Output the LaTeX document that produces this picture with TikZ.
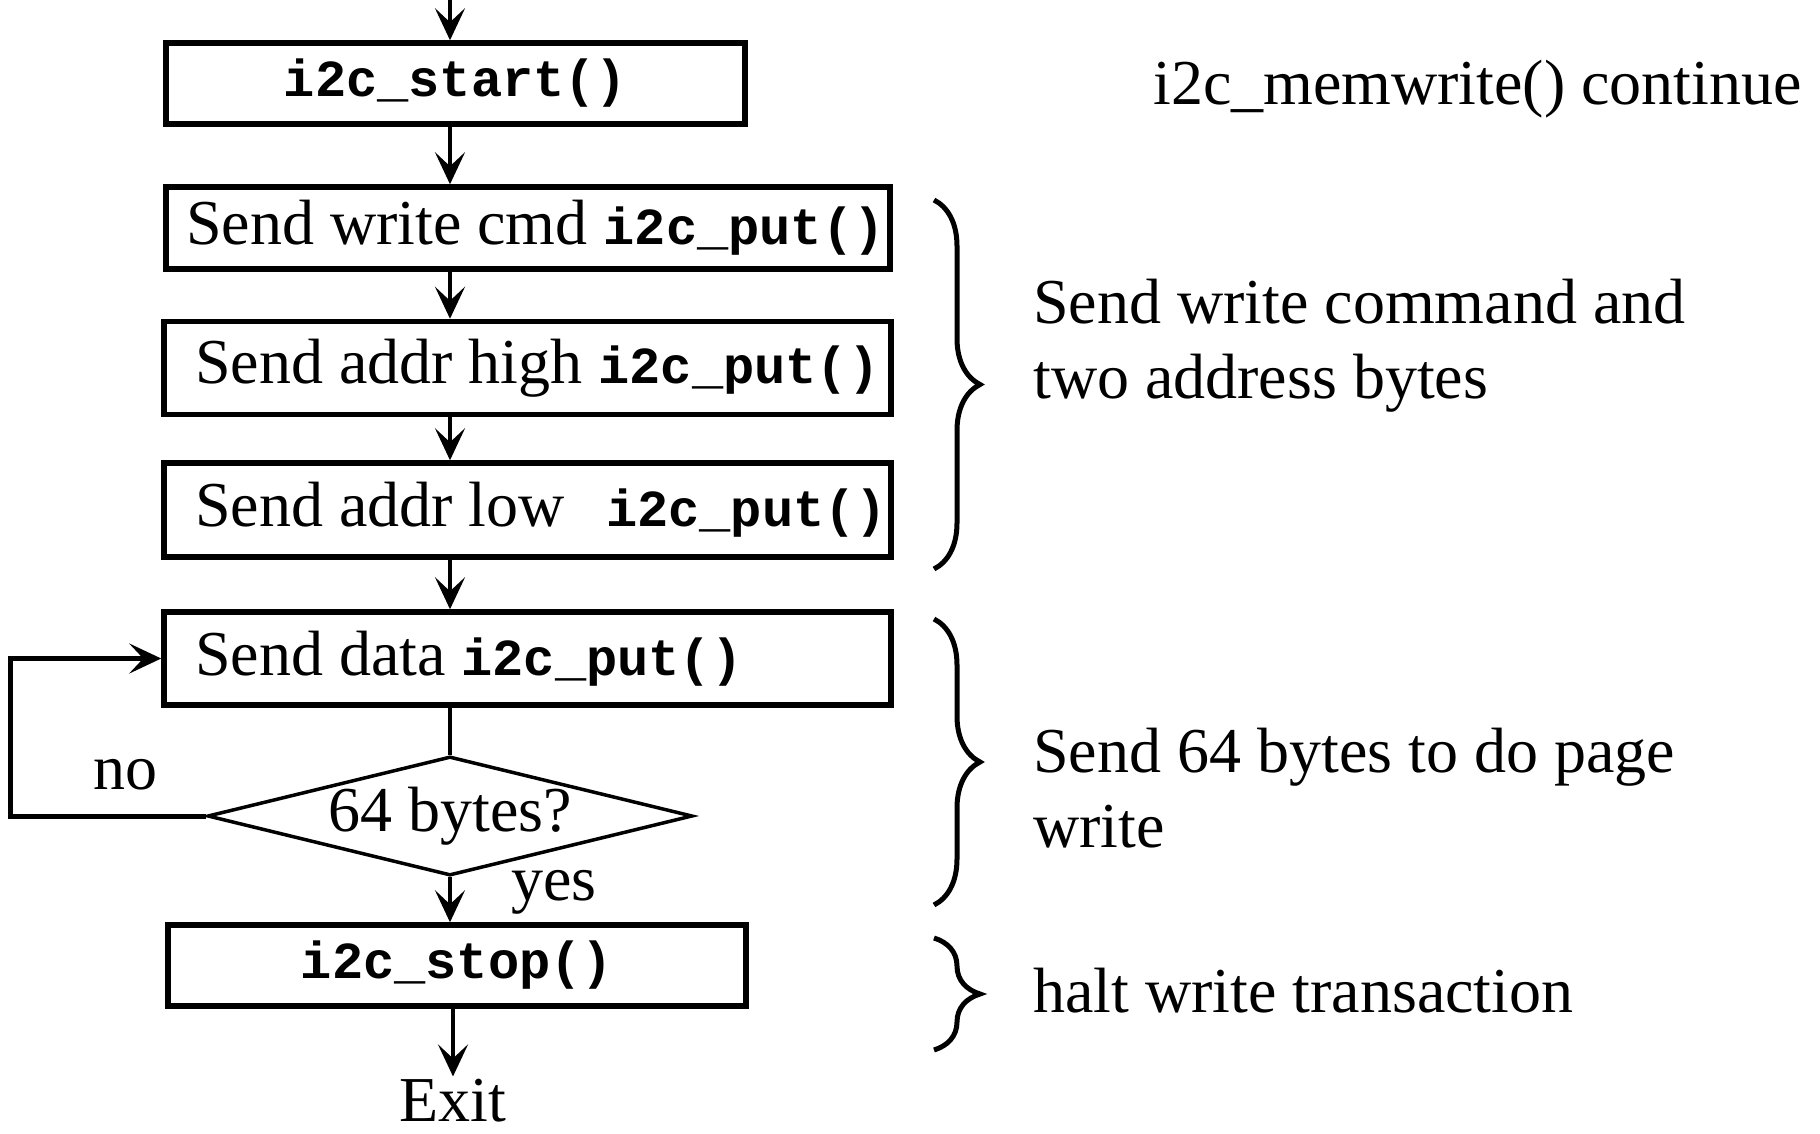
\documentclass[tikz,border=0pt]{standalone}
\usepackage{fontspec}
\setmainfont{Liberation Serif}
\setmonofont{Liberation Mono}
\usetikzlibrary{arrows.meta,shapes.geometric,decorations.pathreplacing}

% text sizes used in the flow chart
\newcommand\myserif{\fontsize{64}{75}\selectfont}
\newcommand\mycode{\fontsize{52}{60}\selectfont\ttfamily\bfseries}

\begin{document}
\begin{tikzpicture}[
  x=1pt, y=-1pt,
  font=\myserif,
  stepbox/.style={draw, line width=5.5pt, inner sep=0pt, minimum height=93pt},
  decision/.style={diamond, draw, line width=3.5pt, aspect=4, inner sep=0pt,
                   minimum width=485pt, minimum height=119pt},
  arr/.style={line width=4pt, -{Stealth[length=32pt,width=30pt,inset=14pt]}},
  flow/.style={line width=4pt},
  bracket/.style={line width=5pt, decorate,
                  decoration={brace, amplitude=46pt}},
  note/.style={anchor=base west, inner sep=0pt, align=left},
]
  % page
  \fill[white] (0,0) rectangle (1820,1134);
  \useasboundingbox (0,0) rectangle (1820,1134);

  % column of the main flow
  \coordinate (col) at (450,0);
  \coordinate (entry) at (450,0);

  % steps
  \node[stepbox, minimum width=579pt, minimum height=81pt] (start) at (455.5,83.5)
    {\mycode i2c\_start()};
  \node[stepbox, minimum width=724pt, minimum height=82pt] (b1) at (528,228)
    {\makebox[684pt][l]{Send write cmd \mycode i2c\_put()}};
  \node[stepbox, minimum width=727pt] (b2) at (527.5,368)
    {\makebox[665pt][l]{Send addr high \mycode i2c\_put()}};
  \node[stepbox, minimum width=727pt, minimum height=94pt] (b3) at (527.5,510)
    {\makebox[665pt][l]{\makebox[411pt][l]{Send addr low}\mycode i2c\_put()}};
  \node[stepbox, minimum width=727pt] (b4) at (527.5,658.5)
    {\makebox[665pt][l]{Send data \mycode i2c\_put()}};
  \node[decision] (dec) at (450,816) {64 bytes?};
  \node[stepbox, minimum width=578pt, minimum height=81pt] (stop) at (457,965.5)
    {\mycode i2c\_stop()};
  \node[anchor=base, inner sep=2pt] (exit) at (453,1121) {Exit};

  % connectors
  \draw[arr] (entry) -- (entry |- start.north);
  \draw[arr] (start.south -| col) -- (b1.north -| col);
  \draw[arr] (b1.south -| col) -- (b2.north -| col);
  \draw[arr] (b2.south -| col) -- (b3.north -| col);
  \draw[arr] (b3.south -| col) -- (b4.north -| col);
  \draw[flow] (b4.south -| col) -- (dec.north);
  \draw[arr] (dec.south) -- (stop.north -| dec.south);
  \draw[arr, line width=5pt] (dec.west) -- ++(-195,0) |- (b4.west);
  \draw[arr] (stop.south -| exit) -- (exit.north);

  % branch labels
  \node[note] (no) at (93,789) {no};
  \node[note] (yes) at (511,900) {yes};

  % heading
  \node[note] (title) at (1153,105) {i2c\_memwrite() continue};

  % braces and their remarks
  \draw[bracket] (934,200) -- (934,569);
  \draw[bracket] (934,619) -- (934,905);
  \draw[bracket] (934,938) -- (934,1050);

  \node[note] (n1) at (1033,398) {Send write command and\\two address bytes};
  \node[note] (n2) at (1033,847) {Send 64 bytes to do page\\write};
  \node[note] (n3) at (1033,1012) {halt write transaction};
\end{tikzpicture}
\end{document}
